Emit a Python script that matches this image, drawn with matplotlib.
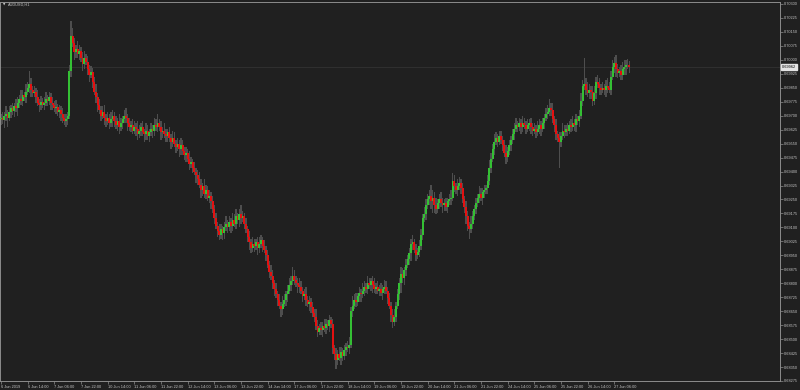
import matplotlib
matplotlib.use("Agg")
import matplotlib.pyplot as plt
import matplotlib.transforms as mtransforms
import numpy as np

# AUDUSD H1 candles, closes in 1e-5 units
SYMBOL = "AUDUSD,H1"
FIRST_OPEN = 69680
close_pts = [
  69690, 69675, 69700, 69710, 69690, 69720, 69740, 69725, 69750, 69740, 69770, 69790, 69780, 69810, 69800, 69830, 69850, 69870, 69840, 69820,
  69830, 69800, 69770, 69760, 69775, 69760, 69770, 69790, 69780, 69800, 69770, 69760, 69740, 69745, 69720, 69730, 69710, 69690, 69670, 69680,
  69700, 69940, 70130, 70090, 70040, 70060, 70030, 70050, 70010, 69980, 70010, 69990, 69950, 69920, 69935, 69880, 69830, 69800, 69760, 69730,
  69700, 69720, 69690, 69670, 69690, 69660, 69680, 69700, 69670, 69650, 69670, 69640, 69660, 69680, 69700, 69690, 69660, 69640, 69650, 69620,
  69640, 69630, 69600, 69620, 69640, 69610, 69600, 69620, 69590, 69610, 69630, 69620, 69650, 69640, 69660, 69640, 69610, 69620, 69600, 69590,
  69610, 69580, 69560, 69580, 69550, 69530, 69550, 69520, 69540, 69510, 69490, 69500, 69470, 69440, 69450, 69420, 69400, 69380, 69360, 69330,
  69300, 69320, 69280, 69300, 69260, 69270, 69240, 69200, 69150, 69110, 69080, 69060, 69090, 69070, 69100, 69120, 69100, 69130, 69110, 69140,
  69120, 69160, 69140, 69170, 69150, 69160, 69120, 69090, 69050, 69020, 68990, 69010, 69000, 69020, 68990, 69010, 69030, 69000, 68980, 68950,
  68900, 68860, 68840, 68800, 68770, 68740, 68710, 68680, 68660, 68690, 68710, 68740, 68760, 68790, 68810, 68840, 68820, 68800, 68790, 68780,
  68760, 68730, 68740, 68710, 68690, 68700, 68670, 68640, 68620, 68570, 68540, 68560, 68550, 68570, 68560, 68580, 68570, 68600, 68580, 68450,
  68420, 68390, 68420, 68400, 68430, 68410, 68440, 68460, 68450, 68470, 68650, 68680, 68710, 68700, 68730, 68750, 68740, 68760, 68780, 68770,
  68800, 68790, 68810, 68790, 68770, 68780, 68760, 68770, 68750, 68770, 68780, 68760, 68720, 68680, 68630, 68590, 68620, 68680, 68740, 68800,
  68850, 68830, 68870, 68900, 68930, 68960, 69010, 69020, 68980, 68950, 68970, 69000, 69060, 69150, 69170, 69220, 69250, 69270, 69240, 69260,
  69220, 69200, 69230, 69250, 69230, 69220, 69230, 69210, 69240, 69250, 69260, 69350, 69320, 69300, 69320, 69340, 69310, 69250, 69210, 69160,
  69110, 69090, 69120, 69160, 69200, 69230, 69260, 69280, 69260, 69290, 69300, 69310, 69350, 69420, 69470, 69520, 69560, 69580, 69560, 69590,
  69570, 69540, 69500, 69480, 69510, 69540, 69570, 69600, 69630, 69650, 69640, 69660, 69640, 69660, 69650, 69630, 69650, 69660, 69640, 69620,
  69630, 69610, 69630, 69650, 69630, 69660, 69690, 69710, 69720, 69740, 69730, 69680, 69650, 69600, 69580, 69560, 69590, 69620, 69610, 69630,
  69620, 69650, 69640, 69660, 69650, 69680, 69670, 69700, 69780, 69860, 69870, 69840, 69820, 69840, 69830, 69780, 69820, 69880, 69870, 69850,
  69840, 69850, 69840, 69860, 69850, 69840, 69910, 69960, 69985, 69950, 69930, 69940, 69920, 69950, 69960, 69970, 69975, 69962,
]
# wick lengths in pips above / below the body
up_wick = [
  2, 3, 2, 4, 2, 3, 2, 3, 2, 4, 3, 2, 5, 3, 2, 4, 3, 7, 3, 2,
  3, 2, 4, 2, 3, 2, 3, 4, 2, 3, 2, 3, 2, 4, 2, 3, 2, 3, 2, 3,
  2, 3, 8, 4, 3, 2, 4, 3, 2, 3, 4, 2, 3, 2, 3, 2, 3, 4, 2, 3,
  2, 3, 4, 2, 3, 2, 4, 3, 2, 3, 2, 4, 3, 2, 3, 4, 2, 3, 2, 3,
  3, 2, 4, 3, 2, 3, 2, 4, 3, 2, 3, 2, 4, 3, 5, 2, 3, 2, 4, 3,
  2, 3, 2, 4, 3, 2, 3, 2, 4, 3, 2, 3, 2, 4, 3, 2, 3, 2, 3, 4,
  3, 2, 4, 3, 2, 3, 2, 3, 2, 3, 2, 4, 3, 2, 3, 4, 2, 3, 2, 4,
  3, 4, 2, 3, 5, 3, 2, 3, 2, 3, 2, 4, 3, 2, 3, 4, 3, 2, 3, 2,
  3, 2, 4, 3, 2, 3, 2, 3, 2, 4, 3, 2, 3, 4, 3, 5, 3, 2, 3, 4,
  3, 2, 3, 4, 2, 3, 2, 3, 2, 4, 3, 2, 3, 2, 4, 3, 2, 3, 2, 3,
  2, 3, 2, 4, 3, 2, 3, 2, 3, 4, 2, 5, 3, 4, 2, 3, 2, 4, 3, 2,
  4, 3, 2, 3, 4, 2, 3, 2, 3, 2, 4, 3, 2, 3, 2, 3, 4, 2, 3, 3,
  4, 3, 2, 3, 2, 3, 3, 4, 2, 3, 2, 3, 3, 2, 4, 3, 3, 3, 6, 4,
  3, 4, 2, 3, 4, 3, 2, 3, 2, 3, 4, 4, 3, 2, 4, 3, 2, 3, 2, 3,
  3, 2, 4, 3, 2, 3, 2, 4, 3, 2, 3, 2, 3, 4, 3, 3, 4, 3, 2, 3,
  3, 2, 3, 4, 2, 3, 2, 3, 3, 4, 2, 3, 2, 4, 3, 2, 3, 2, 3, 2,
  3, 2, 4, 3, 2, 3, 2, 3, 4, 5, 3, 4, 2, 3, 2, 3, 2, 4, 3, 2,
  3, 2, 3, 4, 2, 3, 2, 3, 4, 3, 14, 3, 4, 3, 2, 3, 4, 3, 4, 3,
  2, 3, 2, 3, 4, 3, 3, 4, 3, 4, 3, 2, 3, 4, 4, 3, 3, 2,
]
low_wick = [
  3, 2, 4, 3, 5, 2, 3, 2, 3, 2, 4, 3, 2, 3, 2, 3, 2, 3, 4, 2,
  2, 3, 2, 4, 3, 2, 3, 2, 3, 2, 4, 3, 2, 3, 2, 3, 4, 3, 2, 3,
  3, 2, 3, 2, 4, 3, 2, 3, 2, 4, 3, 2, 3, 4, 2, 3, 2, 3, 4, 2,
  3, 2, 4, 3, 2, 3, 2, 4, 3, 2, 3, 4, 2, 3, 2, 3, 4, 2, 3, 2,
  2, 4, 3, 2, 3, 2, 4, 3, 2, 3, 2, 4, 3, 2, 3, 2, 4, 3, 2, 3,
  3, 2, 4, 3, 2, 3, 2, 4, 3, 2, 3, 4, 2, 3, 2, 3, 2, 4, 3, 2,
  4, 3, 2, 3, 2, 3, 4, 2, 3, 2, 3, 3, 2, 4, 3, 2, 3, 2, 4, 3,
  2, 3, 2, 4, 3, 2, 3, 2, 3, 4, 3, 2, 3, 2, 4, 3, 2, 3, 2, 3,
  2, 3, 2, 3, 4, 2, 3, 2, 4, 3, 2, 3, 4, 2, 3, 2, 3, 2, 4, 3,
  2, 3, 2, 3, 2, 4, 3, 2, 3, 2, 3, 2, 3, 4, 2, 3, 2, 3, 2, 3,
  3, 5, 3, 2, 4, 3, 2, 3, 2, 3, 2, 3, 2, 3, 2, 3, 4, 2, 3, 2,
  3, 2, 3, 4, 2, 3, 2, 3, 2, 4, 3, 2, 3, 2, 4, 3, 2, 3, 2, 3,
  5, 3, 4, 3, 2, 3, 4, 3, 2, 3, 2, 3, 2, 3, 2, 3, 2, 3, 4, 6,
  4, 3, 2, 3, 2, 4, 3, 2, 3, 2, 3, 2, 3, 2, 3, 2, 3, 2, 3, 4,
  3, 5, 2, 3, 2, 3, 2, 3, 2, 4, 3, 2, 3, 2, 3, 2, 3, 2, 3, 2,
  2, 3, 2, 4, 3, 2, 3, 2, 3, 2, 3, 2, 4, 3, 2, 3, 2, 3, 4, 3,
  2, 3, 2, 3, 4, 2, 3, 2, 3, 2, 3, 2, 4, 3, 2, 14, 3, 2, 3, 2,
  3, 2, 3, 2, 3, 4, 2, 3, 2, 3, 2, 3, 2, 3, 4, 3, 2, 3, 2, 4,
  3, 2, 3, 4, 3, 2, 3, 2, 3, 4, 3, 2, 3, 3, 3, 4, 2, 3,
]
x_labels = [
  "6 Jun 2019", "6 Jun 14:00", "7 Jun 06:00", "7 Jun 22:00", "10 Jun 14:00", "11 Jun 06:00",
  "11 Jun 22:00", "12 Jun 14:00", "13 Jun 06:00", "13 Jun 22:00", "14 Jun 14:00", "17 Jun 06:00",
  "17 Jun 22:00", "18 Jun 14:00", "19 Jun 06:00", "19 Jun 22:00", "20 Jun 14:00", "21 Jun 06:00",
  "21 Jun 22:00", "24 Jun 14:00", "25 Jun 06:00", "25 Jun 22:00", "26 Jun 14:00", "27 Jun 06:00",
]
LABEL_EVERY = 16
PRICE_MIN = 0.68275
PRICE_STEP = 0.00075
N_PRICE_TICKS = 28
LAST_PRICE = 0.69962

if not (len(close_pts) == len(up_wick) == len(low_wick)):
  raise SystemExit(f"length mismatch {len(close_pts)} {len(up_wick)} {len(low_wick)}")

BG = "#202020"
GREEN = "#34c034"
RED = "#e41010"
WICK = "#4e4e4e"
TXT = "#c4c4c4"
FONT = "Liberation Sans"

close = np.array(close_pts) / 1e5
open_ = np.concatenate([[FIRST_OPEN / 1e5], close[:-1]])
body_top = np.maximum(open_, close)
body_bot = np.minimum(open_, close)
high = body_top + np.array(up_wick) * 1e-4
low = body_bot - np.array(low_wick) * 1e-4
body_top = np.maximum(body_top, body_bot + 0.00004)
xs = np.arange(len(close))
cols = [GREEN if c >= o else RED for o, c in zip(open_, close)]

fig = plt.figure(figsize=(8, 3.9), dpi=100, facecolor=BG)
ax = fig.add_axes([0.0, 9 / 390, 780 / 800, 379 / 390])
ax.set_facecolor(BG)

ax.axhline(LAST_PRICE, color="#363636", lw=0.5, zorder=1)
# wicks and bodies as pixel-snapped rectangles (one bar ~1.67 px wide)
ax.bar(xs, high - low, bottom=low, width=0.62, color=WICK, linewidth=0, antialiased=False, zorder=2)
ax.bar(xs, body_top - body_bot, bottom=body_bot, width=1.25, color=cols, linewidth=0, antialiased=False, zorder=3)

ax.set_xlim(-0.6, 467.4)
ax.set_ylim(PRICE_MIN, PRICE_MIN + 379 * PRICE_STEP / 13.963)

for s in ax.spines.values():
  s.set_color("#8c8c8c")
  s.set_linewidth(0.7)

yt = PRICE_MIN + np.arange(N_PRICE_TICKS) * PRICE_STEP
ax.yaxis.tick_right()
ax.set_yticks(yt)
ax.set_yticklabels([f"{v:.5f}" for v in yt], fontsize=2.8, family=FONT, color=TXT)
ax.tick_params(axis="y", length=2, width=0.5, color="#8c8c8c", pad=1)

ax.set_xticks(np.arange(len(x_labels)) * LABEL_EVERY)
ax.set_xticklabels(x_labels, fontsize=2.8, family=FONT, color=TXT)
for lab in ax.get_xticklabels():
  lab.set_horizontalalignment("left")
ax.tick_params(axis="x", length=2, width=0.5, color="#8c8c8c", pad=1)

trans = mtransforms.blended_transform_factory(ax.transAxes, ax.transData)
ax.text(1.003, LAST_PRICE, f"{LAST_PRICE:.5f}", transform=trans, ha="left", va="center",
        fontsize=2.8, family=FONT, color="black", clip_on=False, zorder=10,
        bbox=dict(boxstyle="square,pad=0.25", fc="#e4e4e4", ec="#e4e4e4"))

fig.text(3 / 800, 1 - 4.5 / 390, "\u25bc", fontsize=2.2, color="#d0d0d0", va="center", ha="left")
fig.text(8 / 800, 1 - 4.5 / 390, SYMBOL, fontsize=2.8, family=FONT, color=TXT, va="center", ha="left")

fig.savefig("out.png", dpi=100, facecolor=BG)
